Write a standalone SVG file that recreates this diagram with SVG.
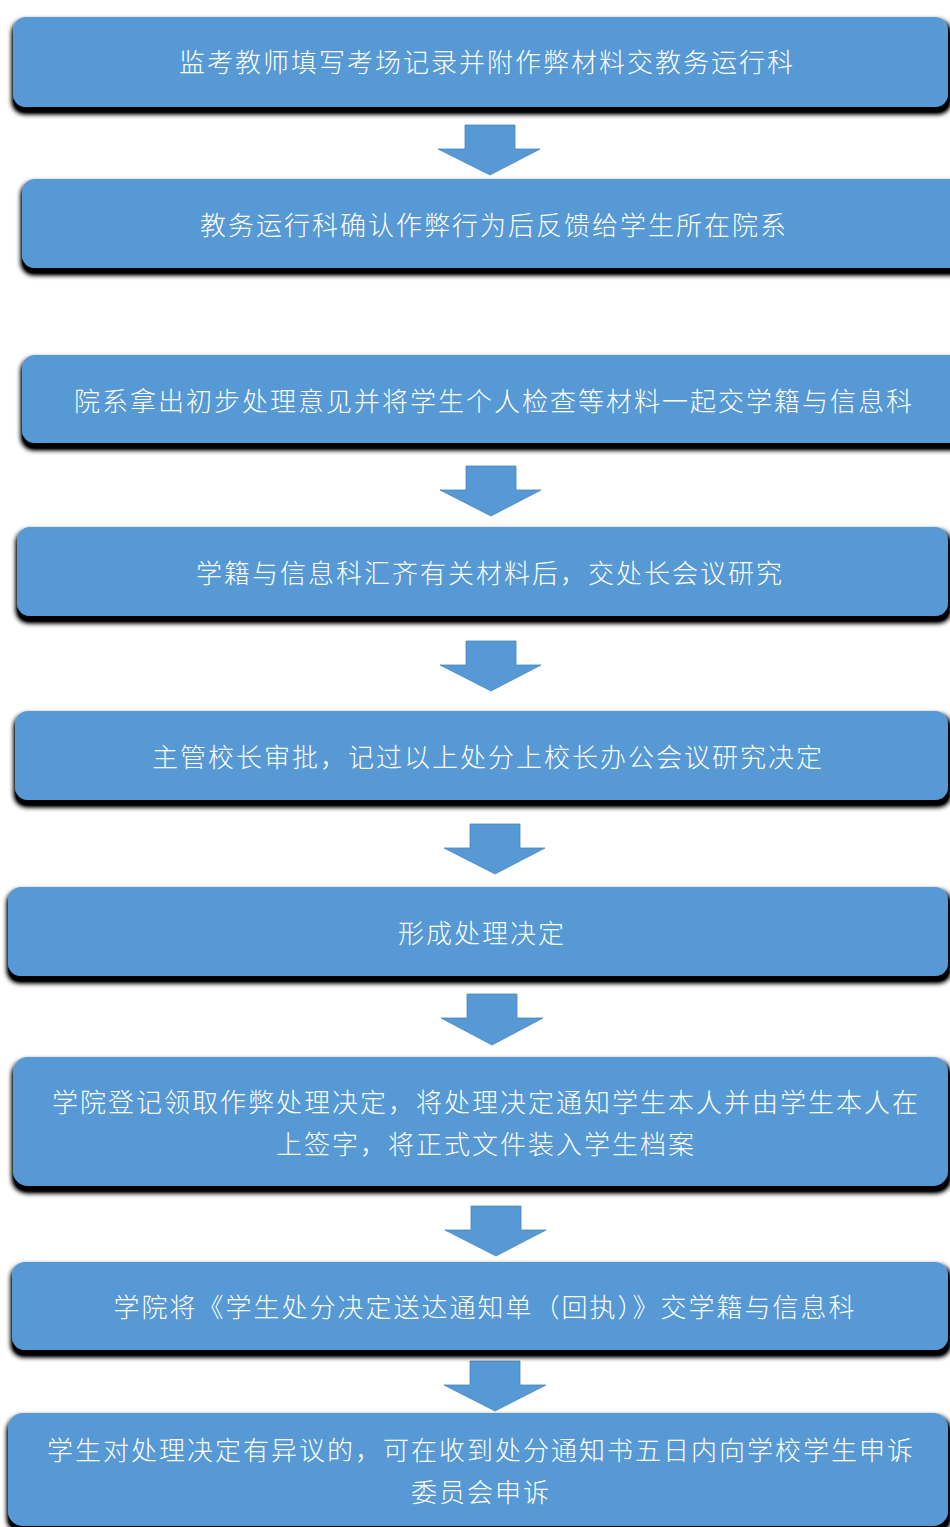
<svg xmlns="http://www.w3.org/2000/svg" width="950" height="1527" viewBox="0 0 950 1527">
<defs>
<filter id="sh" x="-5%" y="-20%" width="110%" height="150%">
<feMorphology in="SourceAlpha" operator="dilate" radius="2" result="d"/>
<feGaussianBlur in="d" stdDeviation="2.5" result="b"/>
<feOffset in="b" dx="1" dy="5" result="o"/>
<feComponentTransfer in="o" result="c"><feFuncA type="linear" slope="1.3"/></feComponentTransfer>
<feMerge><feMergeNode in="c"/><feMergeNode in="SourceGraphic"/></feMerge>
</filter>
</defs>
<style>
.box{fill:#5799d4;filter:url(#sh)}
.t{fill:#ffffff;font-family:"Noto Sans CJK SC","Noto Sans",sans-serif;font-size:26px;font-weight:300;letter-spacing:2px;text-anchor:middle;dominant-baseline:central}
.arr{fill:#5799d4;stroke:#4a86bf;stroke-width:0.8}
</style>
<rect width="950" height="1527" fill="#ffffff"/>
<g id="connectors">
<path class="arr" d="M465,125 h50 v24 h25 l-50,26 l-52,-26 h27 z"/>
<path class="arr" d="M466,466 h50 v24 h25 l-50,26 l-51,-26 h26 z"/>
<path class="arr" d="M466,641 h50 v24 h25 l-50,26 l-51,-26 h26 z"/>
<path class="arr" d="M470,824 h50 v24 h25 l-50,26 l-51,-26 h26 z"/>
<path class="arr" d="M467,994 h50 v24 h26 l-51,27 l-51,-27 h26 z"/>
<path class="arr" d="M471,1206 h50 v24 h25 l-50,26 l-51,-26 h26 z"/>
<path class="arr" d="M470,1361 h50 v24 h26 l-51,26 l-51,-26 h26 z"/>
</g>
<g id="n1"><rect class="box" x="13" y="17" width="935" height="90" rx="13"/><text class="t" x="487" y="60">监考教师填写考场记录并附作弊材料交教务运行科</text></g>
<g id="n2"><rect class="box" x="22" y="179" width="945" height="89" rx="13"/><text class="t" x="494" y="223">教务运行科确认作弊行为后反馈给学生所在院系</text></g>
<g id="n3"><rect class="box" x="22" y="355" width="945" height="88" rx="13"/><text class="t" x="494" y="399">院系拿出初步处理意见并将学生个人检查等材料一起交学籍与信息科</text></g>
<g id="n4"><rect class="box" x="17" y="527" width="931" height="89" rx="13"/><text class="t" x="490" y="571">学籍与信息科汇齐有关材料后，交处长会议研究</text></g>
<g id="n5"><rect class="box" x="15" y="711" width="933" height="89" rx="13"/><text class="t" x="488" y="755">主管校长审批，记过以上处分上校长办公会议研究决定</text></g>
<g id="n6"><rect class="box" x="8" y="887" width="940" height="89" rx="13"/><text class="t" x="482" y="931">形成处理决定</text></g>
<g id="n7"><rect class="box" x="13" y="1057" width="935" height="129" rx="15"/><text class="t" x="486" y="1100">学院登记领取作弊处理决定，将处理决定通知学生本人并由学生本人在</text><text class="t" x="486" y="1142">上签字，将正式文件装入学生档案</text></g>
<g id="n8"><rect class="box" x="12" y="1262" width="936" height="88" rx="13"/><text class="t" x="485" y="1305">学院将《学生处分决定送达通知单（回执）》交学籍与信息科</text></g>
<g id="n9"><rect class="box" x="8" y="1413" width="940" height="113" rx="15"/><text class="t" x="481" y="1448">学生对处理决定有异议的，可在收到处分通知书五日内向学校学生申诉</text><text class="t" x="481" y="1490">委员会申诉</text></g>
</svg>
